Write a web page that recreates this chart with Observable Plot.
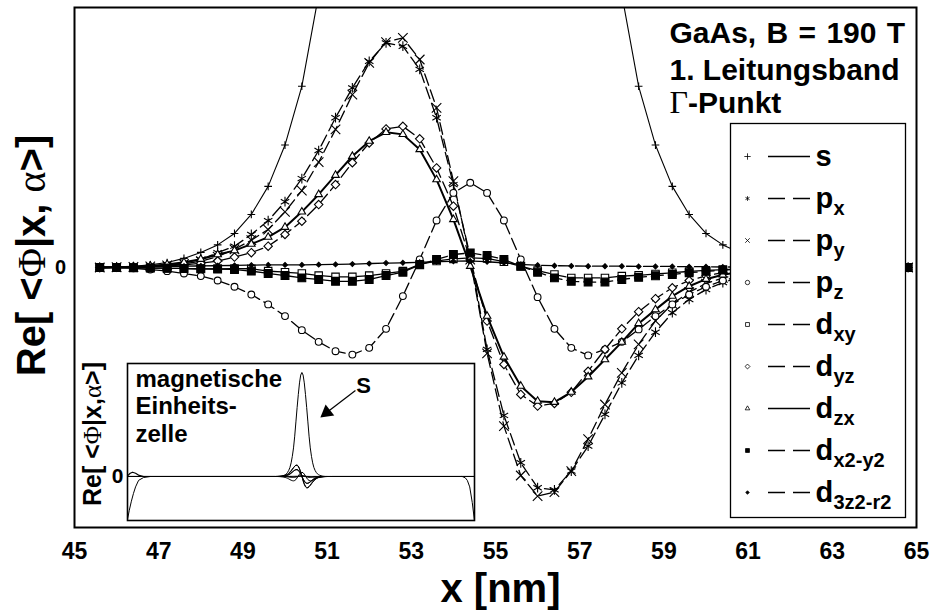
<!DOCTYPE html>
<html><head><meta charset="utf-8">
<script src="https://cdn.jsdelivr.net/npm/d3@7"></script>
<script src="https://cdn.jsdelivr.net/npm/@observablehq/plot@0.6"></script>
<style>
body{margin:0;background:#fff;}
#wrap{position:relative;width:935px;height:614px;overflow:hidden;}
#wrap svg{position:absolute;}
</style></head><body><div id="wrap"></div>
<script>
// ---------- data ----------
const xNm = [45.6,46.0,46.4,46.8,47.2,47.6,48.0,48.4,48.8,49.2,49.6,50.0,50.4,50.8,51.2,51.6,52.0,52.4,52.8,53.2,53.6,54.0,54.4,54.8,55.2,55.6,56.0,56.4,56.8,57.2,57.6,58.0,58.4,58.8,59.2,59.6,60.0,60.4,60.8,61.2,61.6,62.0,62.4,62.8,63.2,63.6,64.0,64.4,64.8];
const sVal = [0.002,0.003,0.005,0.010,0.019,0.035,0.058,0.087,0.131,0.204,0.312,0.471,0.697,1.05,1.55,2.2,3.1,4.2,5.3,6.3,7.2,7.8,8.0,7.8,7.2,6.3,5.3,4.2,3.1,2.2,1.55,1.05,0.697,0.471,0.312,0.204,0.131,0.087,0.058,0.035,0.019,0.010,0.005,0.003,0.002,0.001,0.001,0,0];
const pxVal = [0,0.001,0.002,0.005,0.01,0.018,0.031,0.057,0.082,0.127,0.18,0.253,0.342,0.45,0.576,0.691,0.793,0.864,0.851,0.762,0.576,0.319,0.043,-0.315,-0.569,-0.751,-0.847,-0.855,-0.783,-0.687,-0.565,-0.444,-0.338,-0.249,-0.174,-0.123,-0.085,-0.058,-0.038,-0.025,-0.016,-0.01,-0.006,-0.004,-0.002,-0.001,0,0,0];
const pyVal = [0,0.001,0.002,0.004,0.008,0.014,0.024,0.042,0.07,0.105,0.146,0.214,0.296,0.405,0.531,0.665,0.787,0.867,0.883,0.8,0.614,0.332,0.03,-0.33,-0.61,-0.8,-0.879,-0.864,-0.783,-0.66,-0.527,-0.405,-0.296,-0.205,-0.14,-0.095,-0.062,-0.04,-0.026,-0.016,-0.01,-0.006,-0.004,-0.002,-0.001,0,0,0,0];
const pzVal = [0,-0.001,-0.003,-0.008,-0.014,-0.023,-0.033,-0.05,-0.074,-0.104,-0.142,-0.187,-0.241,-0.286,-0.322,-0.335,-0.309,-0.236,-0.11,0.031,0.181,0.287,0.326,0.287,0.181,0.031,-0.114,-0.236,-0.309,-0.338,-0.315,-0.286,-0.238,-0.187,-0.142,-0.104,-0.074,-0.05,-0.033,-0.023,-0.014,-0.008,-0.004,-0.002,-0.001,0,0,0,0];
const dxyVal = [0,0,0,-0.002,-0.003,-0.004,-0.005,-0.005,-0.004,-0.005,-0.014,-0.018,-0.023,-0.031,-0.036,-0.036,-0.031,-0.023,-0.014,0.012,0.025,0.033,0.037,0.035,0.022,0.005,-0.012,-0.027,-0.04,-0.04,-0.04,-0.033,-0.03,-0.025,-0.02,-0.015,-0.011,-0.008,-0.006,-0.004,-0.003,-0.002,-0.001,0,0,0,0,0,0];
const dyzVal = [0,0.001,0.002,0.003,0.006,0.01,0.016,0.025,0.04,0.057,0.082,0.127,0.178,0.242,0.319,0.403,0.479,0.533,0.543,0.495,0.383,0.236,0.03,-0.206,-0.373,-0.488,-0.533,-0.523,-0.48,-0.399,-0.315,-0.236,-0.17,-0.12,-0.078,-0.05,-0.032,-0.02,-0.012,-0.008,-0.005,-0.003,-0.002,0,0,0,0,0,0];
const dzxVal = [0,0.001,0.003,0.006,0.012,0.02,0.032,0.05,0.065,0.09,0.117,0.155,0.214,0.281,0.355,0.428,0.486,0.52,0.512,0.454,0.338,0.185,0.005,-0.187,-0.344,-0.456,-0.514,-0.518,-0.479,-0.42,-0.354,-0.287,-0.215,-0.162,-0.11,-0.072,-0.045,-0.028,-0.017,-0.01,-0.006,-0.003,-0.002,0,0,0,0,0,0];
const dx2y2Val = [0,0,-0.001,-0.002,-0.003,-0.004,-0.005,-0.006,-0.008,-0.014,-0.023,-0.031,-0.04,-0.046,-0.053,-0.053,-0.046,-0.031,-0.018,0.01,0.031,0.05,0.056,0.046,0.031,0.005,-0.018,-0.04,-0.053,-0.056,-0.056,-0.046,-0.038,-0.032,-0.027,-0.02,-0.015,-0.01,-0.007,-0.005,-0.003,-0.002,-0.001,0,0,0,0,0,0];
const d3z2Val = [0,0.001,0.002,0.003,0.004,0.005,0.006,0.007,0.008,0.009,0.01,0.01,0.01,0.011,0.012,0.013,0.015,0.017,0.018,0.02,0.022,0.024,0.025,0.022,0.018,0.012,0.009,0.007,0.006,0.005,0.005,0.005,0.004,0.004,0.004,0.003,0.003,0.002,0.002,0.001,0.001,0,0,0,0,0,0,0,0];

const xTicks = [45,47,49,51,53,55,57,59,61,63,65];
const yTicks = [0];
const titleLines = ["GaAs, B = 190 T", "1. Leitungsband", "Γ-Punkt"];
const xLabel = "x [nm]";
const yLabel = "Re[ <Φ|x, α>]";

// inset (magnetic unit cell)
const insetCell = [-3.9, 112.1];
const insetEdgeLowX = [-3.9,-3.3,-2.6,-1.9,-1.2,-0.2,1.45,3.8];
const insetEdgeLowV = [-3.3,-2.6,-1.9,-1.3,-0.8,-0.3,-0.08,0];
const insetEdgeHighX = [108.0,109.0,109.7,110.5,111.35,112.1];
const insetEdgeHighV = [0,-0.1,-0.3,-0.8,-2.0,-3.4];
const insetBumpX = [-3.9,-3.0,-2.2,-1.2,0,1.5];
const insetBumpV = [0.05,0.25,0.33,0.25,0.08,0];
const insetLabelLines = ["magnetische", "Einheits-", "zelle"];
const insetYLabel = "Re[ <Φ|x,α>]";
const insetArrowTail = {x: 72.3, y: 6.62};
const insetArrowHead = {x: 62.7, y: 4.92};
const insetArrowText = {x: 75.0, y: 7.0, text: "S"};

// series: name, values, marker, legend label
const series = [
  {key:"s",     vals:sVal,     symbol:"plus",      fill:"none",  r:2.6, dash:undefined, width:1.1, base:"s", sub:""},
  {key:"px",    vals:pxVal,    symbol:"asterisk",  fill:"none",  r:4.6, dash:"12,5",    width:1.3, base:"p", sub:"x"},
  {key:"py",    vals:pyVal,    symbol:"times",     fill:"none",  r:4.4, dash:"12,5",    width:1.3, base:"p", sub:"y"},
  {key:"pz",    vals:pzVal,    symbol:"circle",    fill:"white", r:3.4, dash:"12,5",    width:1.3, base:"p", sub:"z"},
  {key:"dxy",   vals:dxyVal,   symbol:"square",    fill:"white", r:4.2, dash:"12,5",    width:1.3, base:"d", sub:"xy"},
  {key:"dyz",   vals:dyzVal,   symbol:"diamond2",  fill:"white", r:3.8, dash:"12,5",    width:1.3, base:"d", sub:"yz"},
  {key:"dzx",   vals:dzxVal,   symbol:"triangle2", fill:"white", r:3.6, dash:undefined, width:2.0, base:"d", sub:"zx"},
  {key:"dx2y2", vals:dx2y2Val, symbol:"square",    fill:"black", r:4.4, dash:"12,5",    width:1.3, base:"d", sub:"x2-y2"},
  {key:"d3z2",  vals:d3z2Val,  symbol:"diamond2",  fill:"black", r:2.2, dash:"12,5",    width:1.3, base:"d", sub:"3z2-r2"}
];

const SANS = "'Liberation Sans', Arial, Helvetica, sans-serif";
const SERIF = "'Liberation Serif', 'Times New Roman', serif";
const rows = (xs, vs) => xs.map((x, i) => ({x, v: vs[i]}));

// ---------- main plot ----------
const mainMarks = [];
for (const s of series) {
  const data = rows(xNm, s.vals);
  mainMarks.push(Plot.line(data, {x:"x", y:"v", stroke:"black", strokeWidth:s.width, strokeDasharray:s.dash, clip:true}));
  mainMarks.push(Plot.dot(data, {x:"x", y:"v", symbol:s.symbol, r:s.r, stroke:"black", strokeWidth:1.1, fill:s.fill, clip:true}));
}
const bold = {fontWeight:"bold", fill:"black", lineAnchor:"middle"};
const main = Plot.plot({
  width:935, height:614, marginLeft:74, marginRight:19, marginTop:7, marginBottom:87,
  x:{domain:[45,65], axis:null},
  y:{domain:[-1,1], axis:null},
  style:{fontFamily:SANS, background:"white", overflow:"visible", left:"0px", top:"0px"},
  marks:[
    ...mainMarks,
    Plot.frame({stroke:"black", strokeWidth:2}),
    Plot.text(xTicks, {x:d=>d, text:d=>String(d), frameAnchor:"bottom", dy:24, fontSize:23, textAnchor:"middle", ...bold}),
    Plot.text(yTicks, {y:d=>d, text:d=>String(d), frameAnchor:"left", dx:-14, fontSize:20, textAnchor:"middle", ...bold}),
    Plot.text([xLabel], {text:d=>d, frameAnchor:"bottom", dx:5, dy:62, fontSize:40, textAnchor:"middle", ...bold}),
    Plot.text([yLabel], {text:d=>d, frameAnchor:"left", rotate:-90, dx:-42, dy:-12, fontSize:40, textAnchor:"middle", ...bold}),
    Plot.text([titleLines[0]], {text:d=>d, frameAnchor:"top-left", dx:595, dy:26.3, fontSize:30, textAnchor:"start", ...bold}),
    Plot.text([titleLines[1]], {text:d=>d, frameAnchor:"top-left", dx:595, dy:63.3, fontSize:30, textAnchor:"start", ...bold}),
    Plot.text([titleLines[2]], {text:d=>d, frameAnchor:"top-left", dx:595, dy:96.3, fontSize:30, textAnchor:"start", ...bold})
  ]
});

// ---------- inset ----------
const insetMarks = [Plot.frame({fill:"white"})];
for (const s of series) {
  const data = [{x:insetCell[0], v:0}, ...rows(xNm, s.vals), {x:insetCell[1], v:0}];
  insetMarks.push(Plot.line(data, {x:"x", y:"v", stroke:"black", strokeWidth:1, clip:true}));
}
insetMarks.push(Plot.line(rows(insetEdgeLowX, insetEdgeLowV), {x:"x", y:"v", stroke:"black", strokeWidth:1, clip:true}));
insetMarks.push(Plot.line(rows(insetEdgeHighX, insetEdgeHighV), {x:"x", y:"v", stroke:"black", strokeWidth:1, clip:true}));
insetMarks.push(Plot.line(rows(insetBumpX, insetBumpV), {x:"x", y:"v", stroke:"black", strokeWidth:1.2, clip:true}));
insetMarks.push(Plot.frame({stroke:"black", strokeWidth:1.6}));
insetLabelLines.forEach((t, i) => {
  insetMarks.push(Plot.text([t], {text:d=>d, frameAnchor:"top-left", dx:8, dy:[16.3,42.6,71.3][i], fontSize:24, textAnchor:"start", ...bold}));
});
insetMarks.push(Plot.text([0], {y:d=>d, text:d=>String(d), frameAnchor:"left", dx:-10, fontSize:21, textAnchor:"middle", ...bold}));
insetMarks.push(Plot.text([insetYLabel], {text:d=>d, frameAnchor:"left", rotate:-90, dx:-35, dy:-8, fontSize:25, textAnchor:"middle", ...bold}));
insetMarks.push(Plot.link([{a:insetArrowTail, b:insetArrowHead}], {x1:d=>d.a.x, y1:d=>d.a.y, x2:d=>d.b.x, y2:d=>d.b.y, stroke:"black", strokeWidth:1.2}));
insetMarks.push(Plot.dot([insetArrowHead], {x:"x", y:"y", symbol:"triangle", r:5.2, fill:"black", stroke:"none", rotate:232}));
insetMarks.push(Plot.text([insetArrowText], {x:"x", y:"y", text:"text", fontSize:22, textAnchor:"middle", ...bold}));
const inset = Plot.plot({
  width:400, height:170, marginLeft:47, marginRight:6, marginTop:8, marginBottom:5,
  x:{domain:insetCell, axis:null},
  y:{domain:[-3.385, 8.69], axis:null},
  style:{fontFamily:SANS, background:"transparent", overflow:"visible", left:"80px", top:"355px"},
  marks:insetMarks
});

// ---------- legend ----------
const legendRows = series.map(s => ({name:s.key, symbol:s.symbol, fill:s.fill, base:s.base, sub:s.sub, solid:!s.dash}));
const legend = Plot.plot({
  width:175, height:394, margin:0,
  x:{domain:[0,175], range:[0,175], axis:null},
  y:{type:"point", domain:series.map(s=>s.key), range:[31,370], padding:0, axis:null},
  style:{fontFamily:SANS, background:"transparent", overflow:"visible", left:"730px", top:"123px"},
  marks:[
    Plot.frame({fill:"white", stroke:"black", strokeWidth:1.3}),
    Plot.ruleY(legendRows.filter(d=>d.solid), {y:"name", x1:38, x2:80, stroke:"black", strokeWidth:1.5}),
    Plot.ruleY(legendRows.filter(d=>!d.solid), {y:"name", x1:38, x2:80, stroke:"black", strokeWidth:1.5, strokeDasharray:"17,8"}),
    Plot.dot(legendRows.filter(d=>d.name!=="d3z2"), {x:17, y:"name", symbol:"symbol", fill:"fill", stroke:"black", strokeWidth:0.8, r:2.2}),
    Plot.dot(legendRows.filter(d=>d.name==="d3z2"), {x:17, y:"name", symbol:"symbol", fill:"fill", stroke:"black", strokeWidth:0.8, r:1.6}),
    Plot.text(legendRows, {x:85, y:"name", text:"base", fontSize:29, textAnchor:"start", ...bold}),
    Plot.text(legendRows.filter(d=>d.sub), {x:85, y:"name", text:"sub", dx:18, dy:10, fontSize:20, textAnchor:"start", ...bold})
  ]
});

const wrap = document.getElementById("wrap");
wrap.append(main, inset, legend);

// rich text: Greek letters in serif (as in the original Symbol font)
function richify(root, plain, parts) {
  d3.select(root).selectAll("text").filter(function(){ return this.textContent === plain; }).each(function(){
    const t = d3.select(this);
    t.text(null);
    for (const p of parts) {
      const ts = t.append("tspan").text(p.t);
      if (p.serif) ts.attr("font-family", SERIF).attr("font-weight", "normal");
      if (p.size) ts.attr("font-size", p.size);
    }
  });
}
d3.select(main).selectAll("text").filter(function(){ return this.textContent === titleLines[0]; }).attr("word-spacing", "2px");
richify(main, yLabel, [{t:"Re[ <"},{t:"Φ",serif:true},{t:"|x, "},{t:"α",serif:true},{t:">]"}]);
richify(main, titleLines[2], [{t:"Γ",serif:true,size:32},{t:"-Punkt"}]);
richify(inset, insetYLabel, [{t:"Re[ <"},{t:"Φ",serif:true},{t:"|x,"},{t:"α",serif:true},{t:">]"}]);
</script>
</body></html>
